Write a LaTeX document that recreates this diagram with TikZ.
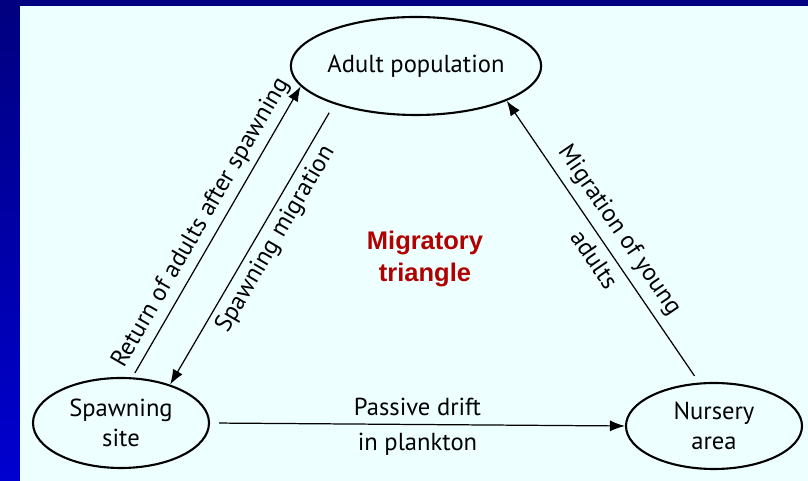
\documentclass[tikz,border=0pt]{standalone}
\usepackage{fontspec}
\setsansfont{PT Sans}
\newfontfamily\titlefont{Liberation Sans}
\usetikzlibrary{arrows.meta,positioning,shapes.geometric}
\definecolor{navy}{HTML}{000080}
\definecolor{brightblue}{HTML}{0000D0}
\definecolor{panel}{HTML}{EEFFFF}
\definecolor{darkred}{HTML}{B00000}

\begin{document}
\begin{tikzpicture}[font=\sffamily\fontsize{14}{17}\selectfont,
  place/.style={draw,ellipse,line width=1.2pt,inner sep=0pt,align=center},
  flow/.style={line width=0.7pt,-{Latex[length=3mm,width=2.2mm]}}]
\useasboundingbox (0,0) rectangle (16.16,9.62);
\fill[navy] (0,9.5) rectangle (16.16,9.62);
\shade[top color=navy,bottom color=brightblue] (0,0) rectangle (0.4,9.5);
\fill[panel] (0.4,0) rectangle (16.16,9.5);
% the three places of the cycle
\node[place,minimum width=4.68cm,minimum height=1.96cm] (adult) at (8.32,8.30) {Adult population};
\node[place,minimum width=3.52cm,minimum height=1.8cm] (spawn) at (2.42,1.16) {Spawning\\site};
\node[place,minimum width=3.52cm,minimum height=1.72cm] (nursery) at (14.28,1.10) {Nursery\\area};
\node[font=\titlefont\bfseries\fontsize{14.5}{18.5}\selectfont,text=darkred,align=center] (title) at (8.5,4.44) {Migratory\\triangle};
% migrations
\draw[flow,shorten <=0.18cm] (spawn.east) -- node[above=1pt]{Passive drift} node[below=1pt]{in plankton} (nursery.west);
\draw[flow,shorten <=0.1cm] (spawn.76) -- node[sloped,above]{Return of adults after spawning} (adult.190);
\draw[flow,shorten <=0.2cm] (adult.205) -- node[sloped,below,pos=0.45]{Spawning migration} (spawn.38);
\draw[flow,shorten <=0.16cm] (nursery.109) -- node[sloped,above=1pt]{Migration of young} node[sloped,below=1pt,pos=0.47]{adults} (adult.339);
\end{tikzpicture}
\end{document}
